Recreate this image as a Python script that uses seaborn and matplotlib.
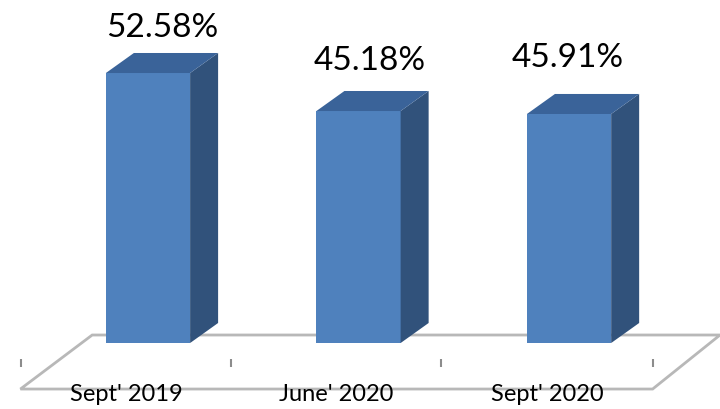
import matplotlib
matplotlib.use("Agg")
import matplotlib.pyplot as plt
import pandas as pd
import seaborn as sns
from matplotlib.patches import Polygon

categories = ["Sept' 2019", "June' 2020", "Sept' 2020"]
bar_heights = [52.58, 45.18, 44.6]  # drawn height, the last bar sits lower than its label says
bar_labels = ["52.58%", "45.18%", "45.91%"]

sns.set_theme(style="white")
plt.rcParams["font.family"] = ["Lato", "DejaVu Sans"]

df = pd.DataFrame({"periodo": categories, "valor": bar_heights})

fig = plt.figure(figsize=(7.2, 4.09), dpi=100)
ax = fig.add_axes([0, 0, 1, 1])

# Caras frontales
sns.barplot(data=df, x="periodo", y="valor", color="#4F81BD", saturation=1,
            width=0.4, ax=ax, zorder=3, linewidth=0)

ax.set_xlim(-0.703, 2.717)
ax.set_ylim(-12.85, 66.8)
ax.axis("off")

# Profundidad 3D
dx, dy = 0.133, 3.9
for bar in ax.patches[:3]:
    x0 = bar.get_x()
    x1 = x0 + bar.get_width()
    h = bar.get_height()
    ax.add_patch(Polygon([(x1, 0), (x1 + dx, dy), (x1 + dx, h + dy), (x1, h)],
                         color="#31527B", lw=0, zorder=3))
    ax.add_patch(Polygon([(x0, h), (x0 + dx, h + dy), (x1 + dx, h + dy), (x1, h)],
                         color="#3A6399", lw=0, zorder=3))

# Piso
floor = [(-0.606, -8.96), (2.397, -8.96), (2.717, 1.56), (-0.265, 1.56)]
ax.add_patch(Polygon(floor, closed=True, fill=False, edgecolor="#B8B8B8", lw=2, zorder=1))
ax.vlines([-0.603, 0.394, 1.39, 2.40], -4.67, -3.1, color="#8C8C8C", lw=1.5, zorder=2)

# Etiquetas
label_dx = [0.067, 0.055, -0.005]
label_dy = [2.0, 2.9, 4.1]
for i, (lab, cat) in enumerate(zip(bar_labels, categories)):
    ax.text(i + label_dx[i], bar_heights[i] + dy + label_dy[i], lab,
            ha="center", va="bottom", fontsize=24, color="black", zorder=4)
    ax.text(i - 0.105, -10.0, cat, ha="center", va="center", fontsize=17, color="black", zorder=4)

fig.savefig("out.png", dpi=100)
